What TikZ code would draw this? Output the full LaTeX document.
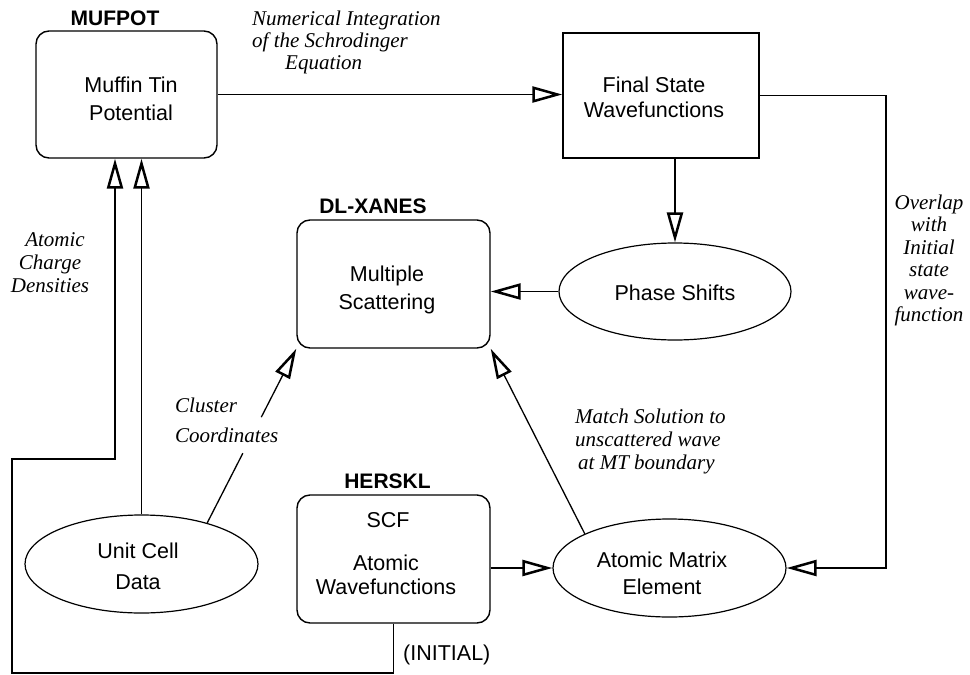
\documentclass[tikz,border=0pt]{standalone}
\usepackage{fontspec}
\setmainfont{Liberation Serif}
\setsansfont{Liberation Sans}
\usetikzlibrary{arrows.meta,shapes.geometric,calc}
\tikzset{
  rbox/.style={draw, rounded corners=13pt, line width=1.4pt, inner sep=0pt},
  sbox/.style={draw, line width=1.4pt, inner sep=0pt},
  ell/.style={draw, ellipse, line width=1.2pt, inner sep=0pt},
  body/.style={font=\sffamily\fontsize{21.5}{25}\selectfont, align=center, anchor=base, inner sep=0pt},
  tag/.style={font=\sffamily\bfseries\fontsize{21}{25}\selectfont, anchor=base, inner sep=0pt},
  note/.style={font=\itshape\fontsize{21}{22}\selectfont, inner sep=0pt, anchor=base west, align=left},
  conn/.style={line width=1.3pt},
  arr/.style={line width=1.3pt, -{Triangle[open, length=30pt, width=16pt, line width=2.5pt]}}
}
\begin{document}
\begin{tikzpicture}[x=1pt,y=-1pt]
\useasboundingbox (0,0) rectangle (970,675);

% shapes
\node[rbox, minimum width=181pt, minimum height=127pt] (mufpot) at (126.5,94.5) {};
\node[sbox, minimum width=196pt, minimum height=125pt] (final) at (661,95.5) {};
\node[rbox, minimum width=193pt, minimum height=128pt] (dlx) at (393.5,284) {};
\node[rbox, minimum width=193pt, minimum height=128pt] (hers) at (393.5,559) {};
\node[ell, minimum width=232pt, minimum height=97pt] (phase) at (675,291.5) {};
\node[ell, minimum width=233pt, minimum height=98pt] (unit) at (141.5,564) {};
\node[ell, minimum width=233pt, minimum height=98pt] (ame) at (669.5,568) {};

% titles
\node[tag] (mufpot-tag) at (115,25) {MUFPOT};
\node[tag] (dlx-tag) at (373,213) {DL-XANES};
\node[tag] (hers-tag) at (387.5,488) {HERSKL};

% texts in shapes (coordinates = baseline of last line)
\node[body] (mufpot-txt) at (131,120) {Muffin Tin\\[3pt]Potential};
\node[body] (final-txt) at (654,117.5) {Final State\\Wavefunctions};
\node[body] (dlx-txt) at (387,309.5) {Multiple\\[3pt]Scattering};
\node[body] (phase-txt) at (675,300.5) {Phase Shifts};
\node[body] (unit-txt) at (138,589.5) {Unit Cell\\[6pt]Data};
\node[body] (ame-txt) at (662,594.5) {Atomic Matrix\\[2pt]Element};
\node[body] (scf-txt) at (388,527.5) {SCF};
\node[body] (hers-txt) at (386,594.5) {Atomic\\[-1pt]Wavefunctions};
\node[body, anchor=base west] (init-txt) at (403,660.5) {(INITIAL)};

% italic labels
\node[note] (num-lbl) at (252,69) {Numerical Integration\\of the Schrodinger\\\hspace*{33pt}Equation};
\node[note, align=center, anchor=base] (acd-lbl) at (50,292) {\hspace*{10pt}Atomic\\[1pt]Charge\hspace*{9pt}\\[1pt]Densities};
\node[note] (clu-lbl) at (175,442) {Cluster\\[8pt]Coordinates};
\node[note] (match-lbl) at (575,469) {Match Solution to\\[1pt]unscattered wave\\[1pt]\hspace*{3pt}at MT boundary};
\node[note, align=center, anchor=base, font=\itshape\fontsize{21}{22.5}\selectfont] (ovl-lbl) at (929,321.5) {Overlap\\with\\Initial\\state\\wave-\\function};

% connectors
\coordinate (ovl) at (886,330);
\coordinate (loop-bl) at (12,673);
\coordinate (loop-in) at (115,459);

\draw[arr] (mufpot.east) -- (mufpot.east -| final.west);
\draw[arr] (final.east) -| (ovl) |- (ame.east);
\draw[arr] (phase.north |- final.south) -- (phase.north);
\draw[arr] (phase.west) -- (phase.west -| dlx.east);
\draw[arr] (unit.north) -- (unit.north |- mufpot.south);
\draw[arr] (hers.south) |- (loop-bl) |- (loop-in) -- (loop-in |- mufpot.south);
\draw[conn] (unit.32) -- ($(unit.32)!0.40!(dlx.south west)$);
\draw[arr] ($(unit.32)!0.607!(dlx.south west)$) -- (dlx.south west);
\draw[arr] (ame.158) -- (dlx.south east);
\draw[arr] (hers.east |- ame.west) -- (ame.west);
\end{tikzpicture}
\end{document}
